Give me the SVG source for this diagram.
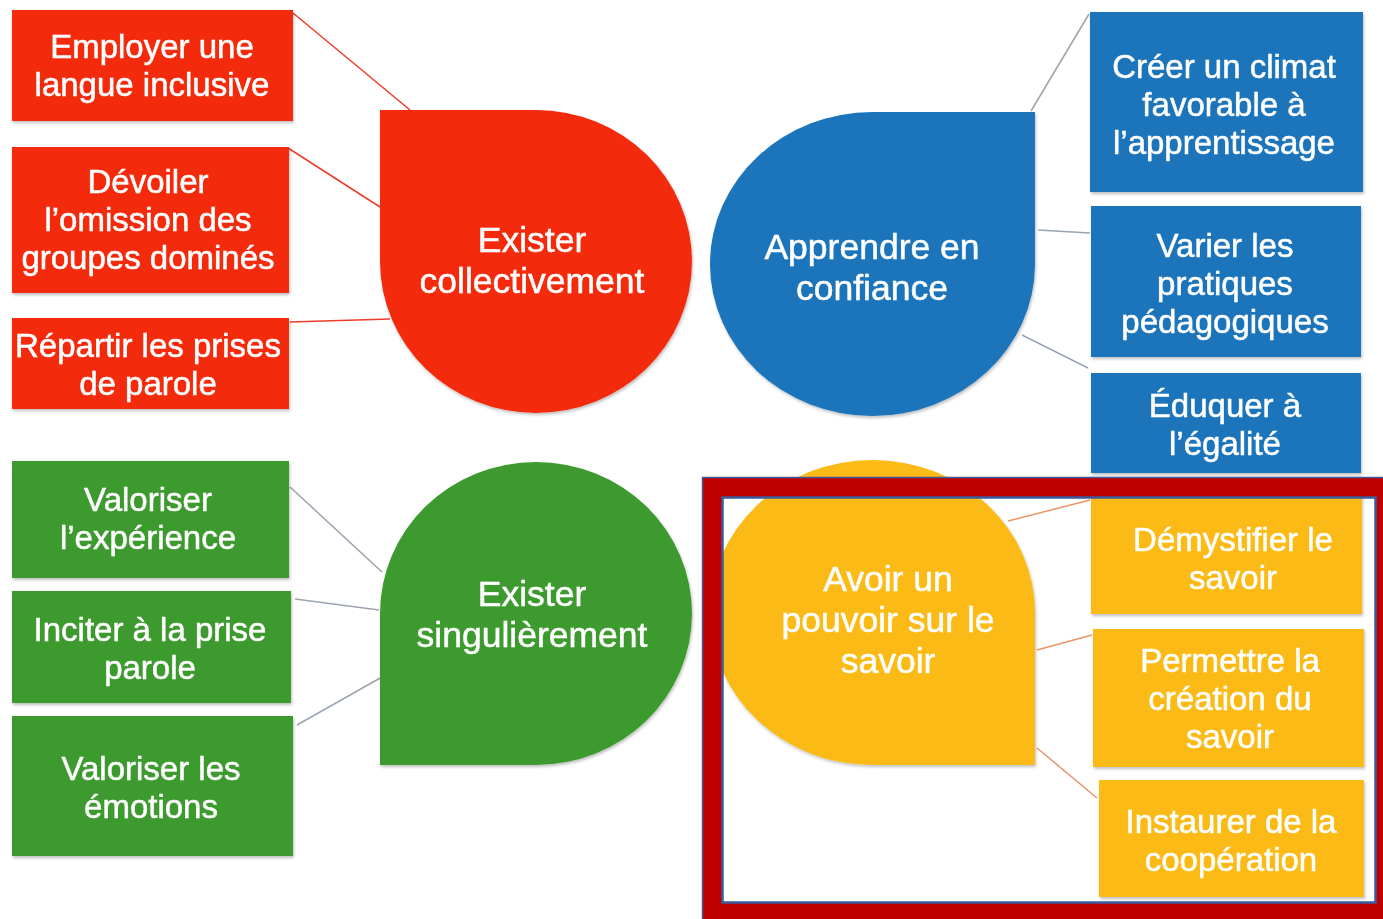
<svg xmlns="http://www.w3.org/2000/svg" width="1383" height="919" viewBox="0 0 1383 919">
<defs>
<style>
text{font-family:"Liberation Sans",Arial,sans-serif;fill:#fff;text-anchor:middle;stroke:#fff;stroke-width:0.5}
.bt{font-size:33px}
.tt{font-size:35.5px}
.red{fill:#F42B0E}
.blue{fill:#1B75BB}
.green{fill:#3D9A2E}
.yellow{fill:#FBBA12}
.cr{stroke:#EE3B2B;stroke-width:1.5;fill:none}
.cg{stroke:#9AA3AE;stroke-width:1.5;fill:none}
.cy{stroke:#E9946B;stroke-width:1.5;fill:none}
</style>
<filter id="sh" x="-10%" y="-10%" width="120%" height="125%">
<feDropShadow dx="1" dy="2" stdDeviation="1.5" flood-color="#000" flood-opacity="0.25"/>
</filter>
</defs>
<rect width="1383" height="919" fill="#fff"/>

<g id="connectors">
<line class="cr" x1="293" y1="13" x2="410" y2="110"/>
<line class="cr" x1="288" y1="148" x2="380" y2="207"/>
<line class="cr" x1="290" y1="322" x2="390" y2="319"/>
<line class="cg" x1="1031" y1="111" x2="1089" y2="14"/>
<line class="cg" x1="1038" y1="230" x2="1090" y2="233"/>
<line class="cg" x1="1022" y1="335" x2="1088" y2="368"/>
<line class="cg" x1="290" y1="487" x2="382" y2="572"/>
<line class="cg" x1="295" y1="599" x2="379" y2="610"/>
<line class="cg" x1="297" y1="725" x2="382" y2="677"/>
<line class="cy" x1="1008" y1="521" x2="1090" y2="500"/>
<line class="cy" x1="1037" y1="650" x2="1092" y2="635"/>
<line class="cy" x1="1037" y1="748" x2="1097" y2="798"/>
</g>

<g id="hub-exister-collectivement" filter="url(#sh)">
<path class="red" d="M380,110 H536 A156,151.5 0 1 1 380,261.5 Z"/>
<text class="tt" x="532" y="252">Exister</text>
<text class="tt" x="532" y="293">collectivement</text>
</g>
<g id="hub-apprendre-en-confiance" filter="url(#sh)">
<path class="blue" d="M1035,112 V265 A162.5,152 0 1 1 872.5,112 Z"/>
<text class="tt" x="872" y="259">Apprendre en</text>
<text class="tt" x="872" y="300">confiance</text>
</g>
<g id="hub-exister-singulierement" filter="url(#sh)">
<path class="green" d="M380,765 V613.5 A156,151.5 0 1 1 536,765 Z"/>
<text class="tt" x="532" y="606">Exister</text>
<text class="tt" x="532" y="647">singulièrement</text>
</g>
<g id="hub-avoir-un-pouvoir" filter="url(#sh)">
<path class="yellow" d="M1035,765 H872.5 A162.5,152.5 0 1 1 1035,612.5 Z"/>
<text class="tt" x="888" y="591">Avoir un</text>
<text class="tt" x="888" y="632">pouvoir sur le</text>
<text class="tt" x="888" y="673">savoir</text>
</g>

<g id="n-employer" filter="url(#sh)">
<rect class="red" x="12" y="10" width="281" height="111"/>
<text class="bt" x="152" y="58">Employer une</text>
<text class="bt" x="152" y="96">langue inclusive</text>
</g>
<g id="n-devoiler" filter="url(#sh)">
<rect class="red" x="12" y="147" width="277" height="146"/>
<text class="bt" x="148" y="193">Dévoiler</text>
<text class="bt" x="148" y="231">l’omission des</text>
<text class="bt" x="148" y="269">groupes dominés</text>
</g>
<g id="n-repartir" filter="url(#sh)">
<rect class="red" x="12" y="318" width="277" height="91"/>
<text class="bt" x="148" y="357">Répartir les prises</text>
<text class="bt" x="148" y="395">de parole</text>
</g>

<g id="n-valoriser-experience" filter="url(#sh)">
<rect class="green" x="12" y="461" width="277" height="117"/>
<text class="bt" x="148" y="511">Valoriser</text>
<text class="bt" x="148" y="549">l’expérience</text>
</g>
<g id="n-inciter" filter="url(#sh)">
<rect class="green" x="12" y="591" width="279" height="112"/>
<text class="bt" x="150" y="641">Inciter à la prise</text>
<text class="bt" x="150" y="679">parole</text>
</g>
<g id="n-valoriser-emotions" filter="url(#sh)">
<rect class="green" x="12" y="716" width="281" height="140"/>
<text class="bt" x="151" y="780">Valoriser les</text>
<text class="bt" x="151" y="818">émotions</text>
</g>

<g id="n-creer-climat" filter="url(#sh)">
<rect class="blue" x="1090" y="12" width="273" height="180"/>
<text class="bt" x="1224" y="78">Créer un climat</text>
<text class="bt" x="1224" y="116">favorable à</text>
<text class="bt" x="1224" y="154">l’apprentissage</text>
</g>
<g id="n-varier" filter="url(#sh)">
<rect class="blue" x="1091" y="206" width="270" height="151"/>
<text class="bt" x="1225" y="257">Varier les</text>
<text class="bt" x="1225" y="295">pratiques</text>
<text class="bt" x="1225" y="333">pédagogiques</text>
</g>
<g id="n-eduquer" filter="url(#sh)">
<rect class="blue" x="1091" y="373" width="270" height="100"/>
<text class="bt" x="1225" y="417">Éduquer à</text>
<text class="bt" x="1225" y="455">l’égalité</text>
</g>

<g id="n-demystifier" filter="url(#sh)">
<rect class="yellow" x="1091" y="494" width="271" height="120"/>
<text class="bt" x="1233" y="551">Démystifier le</text>
<text class="bt" x="1233" y="589">savoir</text>
</g>
<g id="n-permettre" filter="url(#sh)">
<rect class="yellow" x="1093" y="629" width="271" height="138"/>
<text class="bt" x="1230" y="672">Permettre la</text>
<text class="bt" x="1230" y="710">création du</text>
<text class="bt" x="1230" y="748">savoir</text>
</g>
<g id="n-instaurer" filter="url(#sh)">
<rect class="yellow" x="1099" y="780" width="265" height="117"/>
<text class="bt" x="1231" y="833">Instaurer de la</text>
<text class="bt" x="1231" y="871">coopération</text>
</g>

<g id="highlight-frame">
<path fill="#C00000" fill-rule="evenodd" d="M702,477 H1383 V919 H702 Z M722,497 V903 H1376 V497 Z"/>
<rect x="722.5" y="497.5" width="653" height="405" fill="none" stroke="#3A5A9C" stroke-width="2.5"/>
<path d="M702.5,919 V477.5 H1383" fill="none" stroke="#3A5A9C" stroke-width="1.5"/>
</g>
</svg>
